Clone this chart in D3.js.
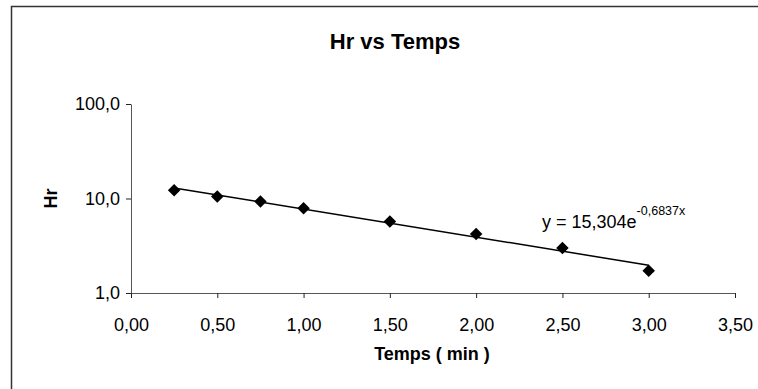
<!DOCTYPE html>
<html>
<head>
<meta charset="utf-8">
<script src="https://cdn.jsdelivr.net/npm/d3@7"></script>
<style>
  body { margin: 0; background: #fff; }
  text { font-family: "Liberation Sans", Arial, sans-serif; }
</style>
</head>
<body>
<div id="chart"></div>
<script>
/* global d3 */

// data
let temps = [0.25, 0.5, 0.75, 1.0, 1.5, 2.0, 2.5, 3.0];
let hr = [12.2, 10.5, 9.3, 7.9, 5.7, 4.2, 3.0, 1.72];
let xTicks = [0, 0.5, 1, 1.5, 2, 2.5, 3, 3.5];
let yTicks = [1, 10, 100];
// trendline y = a * e^(b x)
let trendA = 15.304;
let trendB = -0.6837;

let width = 758, height = 389;
let margin = { top: 104, right: 23, bottom: 96, left: 131 };

let svg = d3.select('#chart')
  .append('svg')
  .attr('width', width)
  .attr('height', height);

// chart frame
svg.append('path')
  .attr('d', 'M11.5,' + height + 'V6.5H' + width)
  .attr('fill', 'none')
  .attr('stroke', '#333')
  .attr('stroke-width', 1.5);

let xScale = d3.scaleLinear()
  .domain([0, 3.5])
  .range([margin.left, width - margin.right]);
let yScale = d3.scaleLog()
  .domain([1, 100])
  .range([height - margin.bottom, margin.top]);

// axes
let fmtX = d => d.toFixed(2).replace('.', ',');
let fmtY = d => d.toFixed(1).replace('.', ',');

let xAxis = svg.append('g')
  .attr('transform', 'translate(0,' + (height - margin.bottom) + ')')
  .call(d3.axisBottom(xScale).tickValues(xTicks).tickFormat(fmtX).tickSize(5).tickSizeOuter(0));
let yAxis = svg.append('g')
  .attr('transform', 'translate(' + margin.left + ',0)')
  .call(d3.axisLeft(yScale).tickValues(yTicks).tickFormat(fmtY).tickSize(5).tickSizeOuter(0).tickPadding(6));

[xAxis, yAxis].forEach(ax => {
  ax.attr('font-size', null).attr('font-family', null);
  ax.select('.domain').attr('stroke', '#555');
  ax.selectAll('.tick line').attr('stroke', '#222');
  ax.selectAll('.tick text')
    .style('font-size', '18px')
    .attr('fill', '#000');
});
xAxis.selectAll('.tick text').attr('y', 38).attr('dy', null);

// trendline, straight on a log scale
let trendX = [d3.min(temps), d3.max(temps)];
svg.append('path')
  .datum(trendX)
  .attr('fill', 'none')
  .attr('stroke', '#000')
  .attr('stroke-width', 1.5)
  .attr('d', d3.line()
    .x(d => xScale(d))
    .y(d => yScale(trendA * Math.exp(trendB * d))));

// markers
svg.selectAll('path.pt')
  .data(temps)
  .enter()
  .append('path')
  .attr('class', 'pt')
  .attr('d', d3.symbol().type(d3.symbolDiamond2).size(100))
  .attr('transform', (d, i) => 'translate(' + xScale(d) + ',' + yScale(hr[i]) + ')')
  .attr('fill', '#000');

// titles
svg.append('text')
  .attr('x', 395)
  .attr('y', 49)
  .attr('text-anchor', 'middle')
  .style('font-size', '22px')
  .style('font-weight', 'bold')
  .text('Hr vs Temps');

svg.append('text')
  .attr('x', 432)
  .attr('y', 360)
  .attr('text-anchor', 'middle')
  .style('font-size', '18px')
  .style('font-weight', 'bold')
  .text('Temps ( min )');

svg.append('text')
  .attr('transform', 'translate(57,' + yScale(10) + ') rotate(-90)')
  .attr('text-anchor', 'middle')
  .style('font-size', '18px')
  .style('font-weight', 'bold')
  .text('Hr');

// equation label
let eq = svg.append('text')
  .attr('x', 542)
  .attr('y', 228)
  .style('font-size', '18px');
eq.append('tspan').text('y = ' + String(trendA).replace('.', ',') + 'e');
eq.append('tspan')
  .attr('dy', -13)
  .style('font-size', '12.5px')
  .text(String(trendB).replace('.', ',') + 'x');
</script>
</body>
</html>
